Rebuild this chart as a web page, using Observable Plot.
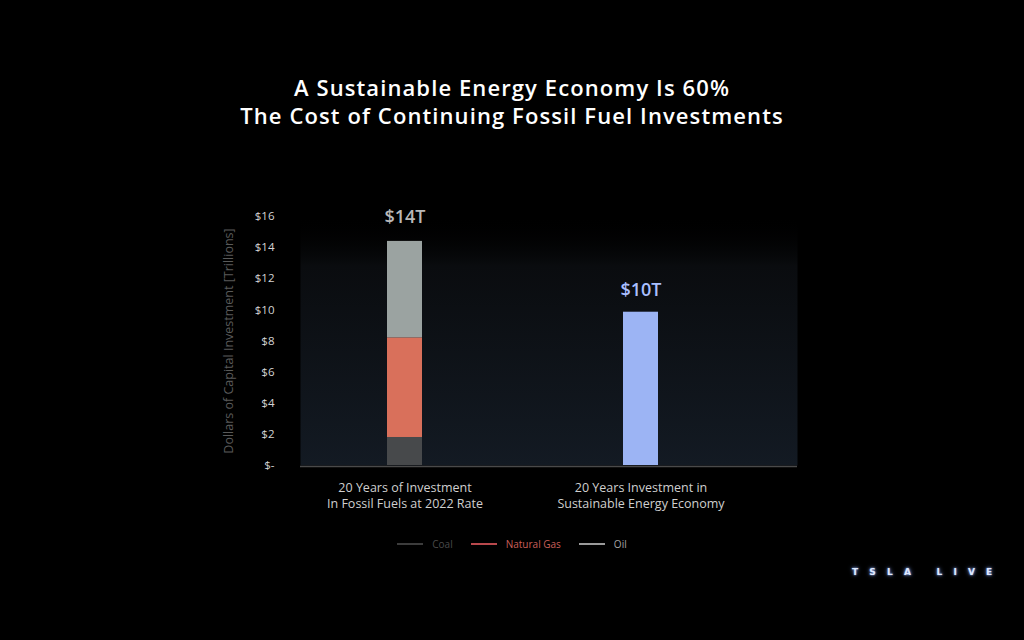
<!DOCTYPE html>
<html><head><meta charset="utf-8">
<script src="https://cdn.jsdelivr.net/npm/d3@7"></script>
<script src="https://cdn.jsdelivr.net/npm/@observablehq/plot@0.6"></script>
<style>
html,body{margin:0;padding:0;background:#000;width:1024px;height:640px;overflow:hidden;}
#wrap{position:relative;width:1024px;height:640px;background:#000;}
#chart{position:absolute;left:0;top:0;}
#title{position:absolute;top:73px;left:0;width:1024px;text-align:center;color:#fff;font-family:"Open Sans";font-weight:600;font-size:22px;line-height:28px;letter-spacing:1.1px;}
#legend{position:absolute;top:537px;left:0;width:1024px;display:flex;justify-content:center;align-items:center;font-family:"Open Sans";font-size:10px;}
#legend .item{display:flex;align-items:center;margin:0 9px;}
#legend .sw{display:inline-block;width:26px;height:1.5px;margin-right:9px;}
#logo{position:absolute;left:852px;top:567px;color:#dfe9ff;font-family:"DejaVu Sans";font-weight:bold;font-size:9px;letter-spacing:11.2px;text-shadow:0 0 4px #6f8fd8,0 0 2px #9fb8ff;}
</style>
</head><body>
<div id="wrap">
  <div id="chart"></div>
  <div id="title">A Sustainable Energy Economy Is 60%<br>The Cost of Continuing Fossil Fuel Investments</div>
  <div id="legend"></div>
  <div id="logo">TSLA LIVE</div>
</div>
<script>
// ---- data ----
const categories = [
  "20 Years of Investment\nIn Fossil Fuels at 2022 Rate",
  "20 Years Investment in\nSustainable Energy Economy"
];
const fossilSources = ["Coal", "Natural Gas", "Oil"];
const fossilValues = [1.8, 6.4, 6.2];          // $ trillions
const sustainableSource = "Sustainable Energy";
const sustainableValues = [9.85];              // $ trillions
const totalLabels = ["$14T", "$10T"];
const yTicks = [0, 2, 4, 6, 8, 10, 12, 14, 16];
const yTickLabels = ["$-", "$2", "$4", "$6", "$8", "$10", "$12", "$14", "$16"];
const yLabel = "Dollars of Capital Investment [Trillions]";

// ---- styles ----
const sourceColors = ["#47494b", "#d9705b", "#9ba3a1", "#9cb4f4"];
const legendTextColors = ["#4a4a4a", "#c95f58", "#a5a5a5"];
const legendLineColors = ["#3c3c3c", "#b8484c", "#9a9a9a"];

// ---- build table ----
const rows = [];
fossilSources.forEach((s, i) => rows.push({category: categories[0], source: s, value: fossilValues[i]}));
sustainableValues.forEach(v => rows.push({category: categories[1], source: sustainableSource, value: v}));
const totals = categories.map((c, i) => ({
  category: c,
  total: d3.sum(rows.filter(r => r.category === c), r => r.value),
  label: totalLabels[i]
}));

const chart = Plot.plot({
  width: 1024,
  height: 640,
  marginTop: 216,
  marginBottom: 175,
  marginLeft: 300,
  marginRight: 227,
  style: {background: "transparent", color: "#cfcfcf", fontFamily: "Open Sans", fontSize: "11px"},
  x: {domain: categories, range: [268.5, 775.5], paddingInner: 0.852, paddingOuter: 0.5, label: null},
  y: {domain: [0, 16], label: null},
  color: {domain: [...fossilSources, sustainableSource], range: sourceColors},
  marks: [
    Plot.frame({fill: "url(#plotGrad)", stroke: null}),
    Plot.barY(rows, Plot.stackY({x: "category", y: "value", fill: "source"})),
    Plot.ruleY([0], {stroke: "#4a4a4a", strokeWidth: 1.5, dy: 1}),
    Plot.axisY({ticks: yTicks, tickFormat: d => yTickLabels[yTicks.indexOf(d)], tickSize: 0, tickPadding: 26, label: null, fill: "#d4d4d4", fontSize: 11.5}),
    Plot.axisX({tickSize: 0, tickPadding: 15, label: null, fill: "#cfcfcf", fontSize: 12.5, lineHeight: 1.3}),
    Plot.text([yLabel], {frameAnchor: "left", rotate: -90, dx: -72, textAnchor: "middle", fill: "#5a5a5a", fontSize: 12.5}),
    Plot.text([totals[0]], {x: "category", y: "total", text: "label", dy: -24, fill: "#b8b8b8", fontSize: 18, fontWeight: 600}),
    Plot.text([totals[1]], {x: "category", y: "total", text: "label", dy: -22, fill: "#a9bfff", fontSize: 18, fontWeight: 600})
  ]
});

// gradient for plot area background
const ns = "http://www.w3.org/2000/svg";
const defs = document.createElementNS(ns, "defs");
defs.innerHTML = `<linearGradient id="plotGrad" x1="0" y1="0" x2="0" y2="1">
  <stop offset="0" stop-color="#000" stop-opacity="0"/>
  <stop offset="0.2" stop-color="#0a0c0f" stop-opacity="1"/>
  <stop offset="1" stop-color="#131a23" stop-opacity="1"/>
</linearGradient>`;
chart.insertBefore(defs, chart.firstChild);
document.getElementById("chart").appendChild(chart);

// legend
const legend = document.getElementById("legend");
fossilSources.forEach((s, i) => {
  const item = document.createElement("div");
  item.className = "item";
  item.innerHTML = `<span class="sw" style="background:${legendLineColors[i]}"></span><span style="color:${legendTextColors[i]}">${s}</span>`;
  legend.appendChild(item);
});
</script>
</body></html>
